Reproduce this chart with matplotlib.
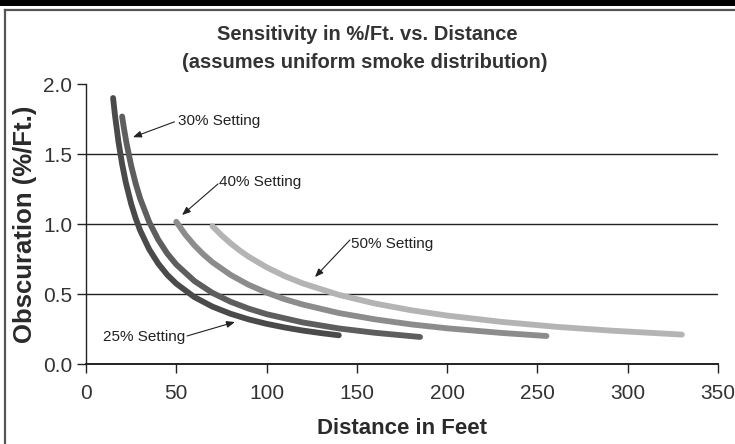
import matplotlib
matplotlib.use("Agg")
import matplotlib.pyplot as plt
from matplotlib.lines import Line2D
from matplotlib.patches import Rectangle

# Data (distance in feet, obscuration %/ft)
dist_25 = [15, 16, 18, 20, 22, 25, 27.5, 30, 35, 40, 45, 50, 60, 70, 80, 90, 100, 110, 120, 130, 140]
obsc_25 = [1.900, 1.782, 1.585, 1.428, 1.299, 1.144, 1.041, 0.954, 0.819, 0.717, 0.637,
           0.574, 0.478, 0.410, 0.359, 0.319, 0.287, 0.261, 0.239, 0.221, 0.205]

dist_30 = [20, 21, 22.5, 25, 27.5, 30, 35, 40, 45, 50, 60, 70, 80, 90, 100, 120, 140, 160, 185]
obsc_30 = [1.768, 1.684, 1.573, 1.417, 1.289, 1.182, 1.014, 0.888, 0.789, 0.711, 0.593,
           0.508, 0.445, 0.396, 0.356, 0.297, 0.254, 0.223, 0.193]

dist_40 = [50, 55, 60, 65, 70, 80, 90, 100, 110, 120, 140, 160, 180, 200, 230, 255]
obsc_40 = [1.016, 0.924, 0.848, 0.783, 0.727, 0.637, 0.566, 0.510, 0.463, 0.425, 0.364,
           0.319, 0.283, 0.255, 0.222, 0.200]

dist_50 = [70, 75, 80, 85, 90, 100, 110, 120, 140, 160, 180, 200, 230, 260, 290, 330]
obsc_50 = [0.985, 0.920, 0.863, 0.812, 0.767, 0.691, 0.628, 0.576, 0.494, 0.432, 0.384,
           0.346, 0.301, 0.266, 0.239, 0.210]

labels = ["25% Setting", "30% Setting", "40% Setting", "50% Setting"]
x_ticks = [0, 50, 100, 150, 200, 250, 300, 350]
y_ticks = [0.0, 0.5, 1.0, 1.5, 2.0]

colors = ["#4a4a4a", "#5e5e5e", "#8c8c8c", "#b4b4b4"]
FONT = ["Liberation Sans", "DejaVu Sans"]
plt.rcParams["font.family"] = FONT

W, H = 735, 444
fig = plt.figure(figsize=(W / 100, H / 100), dpi=100)
ax = fig.add_axes([86 / W, 1 - 364 / H, (718 - 86) / W, (364 - 84) / H])

for d, o, c in zip([dist_25, dist_30, dist_40, dist_50],
                   [obsc_25, obsc_30, obsc_40, obsc_50], colors):
    ax.plot(d, o, color=c, lw=4.2, solid_capstyle="round", solid_joinstyle="round", zorder=3)

ax.set_xlim(0, 350)
ax.set_ylim(0, 2.0)
ax.set_xticks(x_ticks)
ax.set_yticks(y_ticks)
ax.set_xticklabels([str(t) for t in x_ticks])
ax.set_yticklabels([f"{t:.1f}" for t in y_ticks])

for s in ["top", "right"]:
    ax.spines[s].set_visible(False)
for s in ["left", "bottom"]:
    ax.spines[s].set_color("#222222")
    ax.spines[s].set_linewidth(1.0)
ax.spines["bottom"].set_linewidth(1.4)

ax.tick_params(axis="both", direction="out", length=6.5, width=1.0, color="#222222",
               labelsize=15, labelcolor="#333333")
ax.tick_params(axis="x", pad=8)
ax.tick_params(axis="y", pad=3.5)

for yv in [0.5, 1.0, 1.5]:
    ax.axhline(yv, color="#222222", lw=1.0, zorder=1)

ax.set_xlabel("Distance in Feet", fontsize=16, fontweight="bold", color="#2a2a2a",
              labelpad=11)
ax.yaxis.set_label_coords(-(86 - 25) / (718 - 86), (364 - 230) / (364 - 84))
ax.set_ylabel("Obscuration (%/Ft.)", fontsize=18.5, fontweight="bold", color="#2a2a2a",
              va="center")

fig.text(367 / W, 1 - 34 / H, "Sensitivity in %/Ft. vs. Distance", ha="center", va="center",
         fontsize=14.5, fontweight="bold", color="#333333")
fig.text(365 / W, 1 - 63 / H, "(assumes uniform smoke distribution)", ha="center", va="center",
         fontsize=14.5, fontweight="bold", color="#333333")

arrow_kw = dict(arrowstyle="-|>,head_length=0.5,head_width=0.2", color="#222222", lw=0.8,
                shrinkA=0, shrinkB=0)
ann_kw = dict(fontsize=11, color="#222222", va="center")

# 30%
ax.annotate("", xy=(26.0, 1.62), xytext=(49.0, 1.73), arrowprops=arrow_kw)
ax.text(51.0, 1.736, labels[1], ha="left", **ann_kw)
# 40%
ax.annotate("", xy=(53.2, 1.064), xytext=(73.1, 1.286), arrowprops=arrow_kw)
ax.text(73.8, 1.30, labels[2], ha="left", **ann_kw)
# 50%
ax.annotate("", xy=(126.8, 0.621), xytext=(146.2, 0.886), arrowprops=arrow_kw)
ax.text(147.0, 0.86, labels[3], ha="left", **ann_kw)
# 25%
ax.annotate("", xy=(82.5, 0.30), xytext=(55.9, 0.20), arrowprops=arrow_kw)
ax.text(55.0, 0.193, labels[0], ha="right", **ann_kw)

# frame decorations
fig.add_artist(Rectangle((0, 1 - 6 / H), 1, 6 / H, transform=fig.transFigure,
                         facecolor="black", edgecolor="none"))
fig.add_artist(Line2D([5 / W, 5 / W], [0, 1 - 10 / H], transform=fig.transFigure,
                      color="#555555", lw=1.6))
fig.add_artist(Line2D([5 / W, 1], [1 - 10 / H, 1 - 10 / H], transform=fig.transFigure,
                      color="#555555", lw=1.6))

fig.savefig("out.png", dpi=100)
